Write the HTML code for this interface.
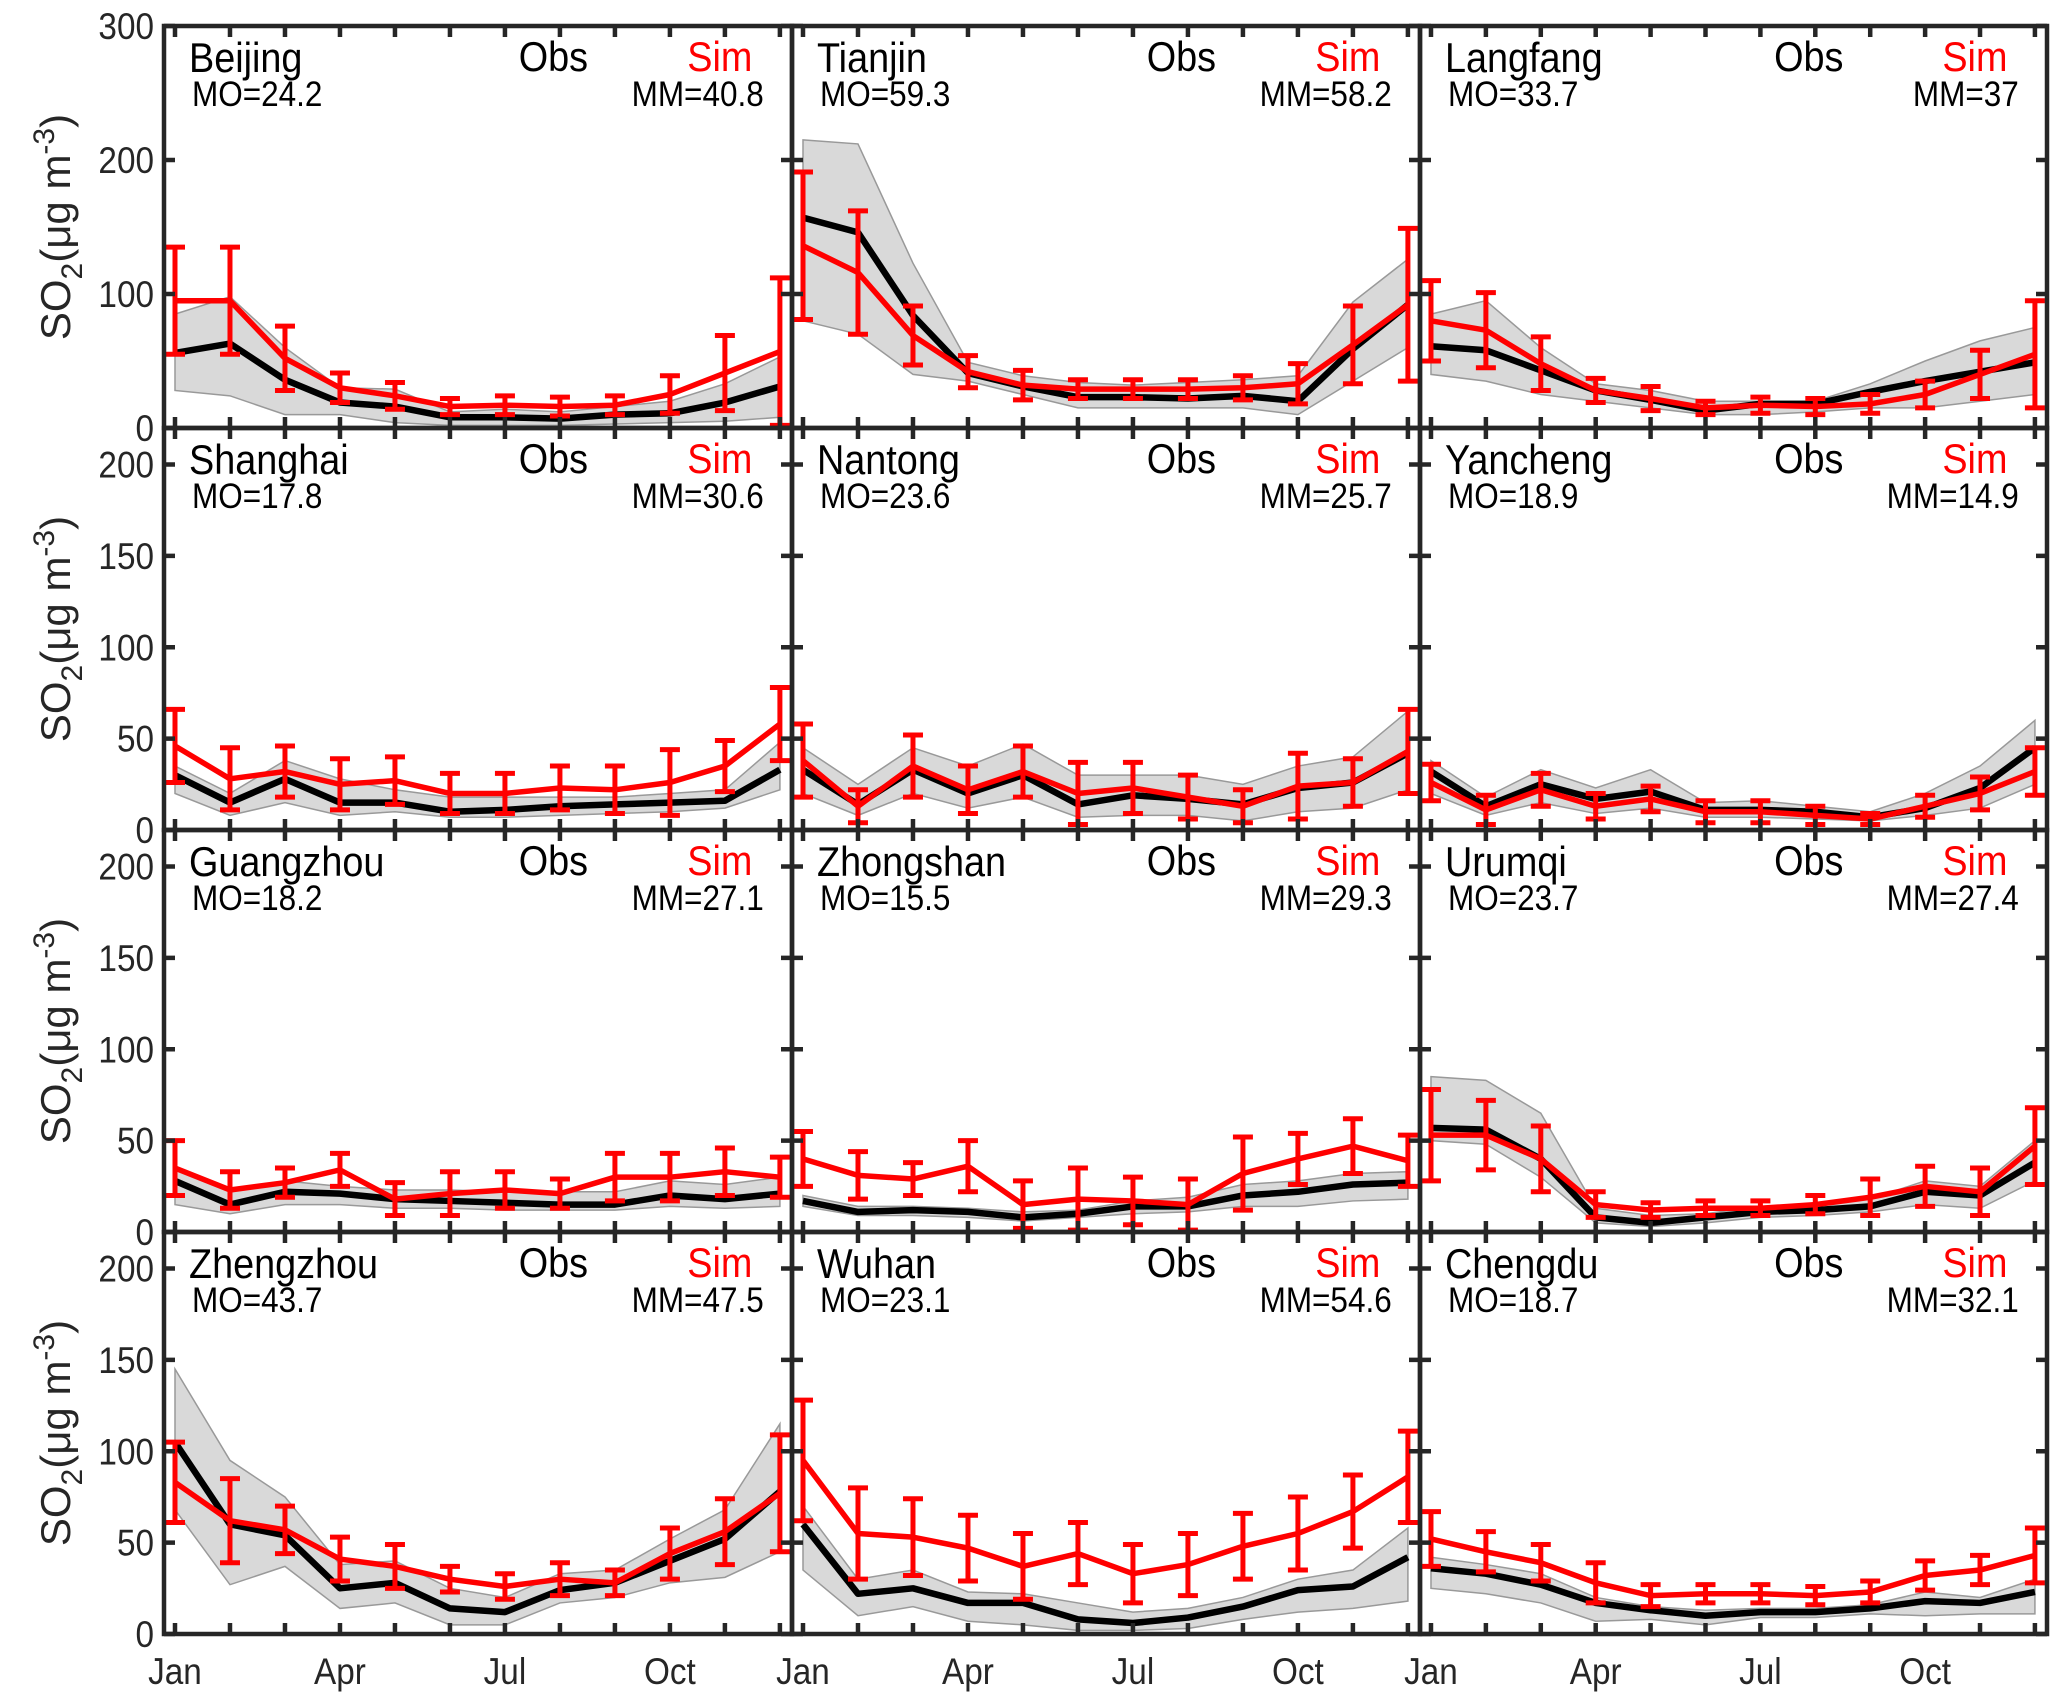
<!DOCTYPE html>
<html><head><meta charset="utf-8"><style>
html,body{margin:0;padding:0;background:#fff;}
svg{display:block;font-family:"Liberation Sans",sans-serif;}
</style></head><body>
<svg id="chart" width="2067" height="1706" viewBox="0 0 2067 1706" xmlns="http://www.w3.org/2000/svg"></svg>
<script>
const cities=["Beijing","Tianjin","Langfang","Shanghai","Nantong","Yancheng","Guangzhou","Zhongshan","Urumqi","Zhengzhou","Wuhan","Chengdu"];
const moVals=["24.2","59.3","33.7","17.8","23.6","18.9","18.2","15.5","23.7","43.7","23.1","18.7"];
const mmVals=["40.8","58.2","37","30.6","25.7","14.9","27.1","29.3","27.4","47.5","54.6","32.1"];
const monthLabels=["Jan","Apr","Jul","Oct"];
const monthTickIdx=[1,4,7,10];
const obs=[
[56,63,36,19,16,8,8,7,10,11,19,31],
[157,146,84,41,31,23,23,22,24,20,59,92],
[61,58,43,28,21,13,18,18,27,35,42,49],
[30,15,28,15,15,10,11,13,14,15,16,33],
[33,14,33,20,30,14,19,17,14,23,26,42],
[32,13,25,17,21,11,11,10,7,12,23,45],
[28,15,22,21,18,17,16,15,15,20,18,21],
[17,11,12,11,8,10,14,14,20,22,26,27],
[57,56,40,8,5,8,11,12,14,22,20,38],
[105,60,54,25,28,14,12,24,28,40,52,78],
[60,22,25,17,17,8,6,9,15,24,26,42],
[36,33,27,17,13,10,12,12,14,18,17,23]];
const obsHi=[
[85,98,60,30,29,12,14,12,16,20,33,53],
[215,212,123,49,39,34,32,34,36,39,94,126],
[85,95,60,33,28,20,20,20,33,50,65,75],
[35,20,38,28,22,18,18,18,18,20,22,48],
[45,25,45,35,47,30,30,30,25,35,40,65],
[38,18,33,23,33,15,16,13,10,20,35,60],
[35,22,28,25,23,23,22,22,22,28,26,30],
[20,14,14,13,11,12,17,19,26,28,32,33],
[85,83,65,13,9,10,14,15,18,28,25,50],
[145,95,75,38,40,25,20,33,35,52,68,115],
[70,30,35,23,22,17,12,14,20,30,35,58],
[42,38,33,20,15,13,14,14,16,23,20,30]];
const obsLo=[
[28,24,10,10,4,2,2,2,3,4,5,8],
[80,70,40,35,25,15,15,15,15,10,35,60],
[40,35,25,20,15,10,10,12,15,15,20,25],
[20,8,15,8,10,7,7,8,9,10,12,22],
[20,8,20,12,18,7,8,8,5,10,12,22],
[20,8,15,9,12,7,7,6,5,8,12,25],
[15,10,15,15,13,13,12,12,12,14,13,14],
[14,9,9,8,6,8,10,11,14,14,17,18],
[50,48,30,5,3,5,8,9,11,15,13,28],
[68,27,37,14,17,5,5,17,20,28,31,45],
[35,10,15,7,5,2,2,3,8,12,14,18],
[25,22,17,7,8,5,9,9,11,10,11,11]];
const sim=[
[95,95,52,30,24,16,17,16,17,25,41,57],
[136,116,69,42,32,29,29,29,30,33,62,92],
[80,73,48,28,22,15,17,16,18,25,40,55],
[46,28,32,25,27,20,20,23,22,26,35,58],
[38,13,35,22,32,20,23,18,13,24,26,43],
[26,11,22,13,17,10,10,8,6,13,20,32],
[35,23,27,34,18,21,23,21,30,30,33,30],
[40,31,29,36,15,18,17,15,32,40,47,39],
[53,53,40,15,12,13,13,15,19,25,22,47],
[83,62,57,41,37,30,26,30,28,44,56,77],
[95,55,53,47,37,44,33,38,48,55,67,86],
[52,45,39,28,21,22,22,21,23,32,35,43]];
const simErr=[
[40,40,24,11,10,6,7,7,7,14,28,55],
[55,46,22,12,11,7,7,7,9,15,29,57],
[30,28,20,9,9,5,6,6,7,10,18,40],
[20,17,14,14,13,11,11,12,13,18,14,20],
[20,9,17,13,14,17,14,12,9,18,13,23],
[10,8,9,7,7,6,6,5,3,6,9,13],
[15,10,8,9,9,12,10,8,13,13,13,11],
[15,13,9,14,13,17,13,14,20,14,15,14],
[25,19,18,7,4,4,4,5,10,11,13,21],
[22,23,13,12,12,7,7,9,7,14,18,32],
[33,25,21,18,18,17,16,17,18,20,20,25],
[15,11,10,11,6,5,5,5,6,8,8,15]];
const yTicksTop=[0,100,200,300];
const yTicksRest=[0,50,100,150,200];

const NS="http://www.w3.org/2000/svg";
const svg=document.getElementById('chart');
function mk(tag,attrs,parent){const e=document.createElementNS(NS,tag);for(const k in attrs)e.setAttribute(k,attrs[k]);(parent||svg).appendChild(e);return e;}
const colX=[164,792,1420,2047];
const rowY=[26,428,830,1232,1634];
const SX=0.9;
for(let p=0;p<12;p++){
  const r=Math.floor(p/3),c=p%3;
  const L=colX[c],R=colX[c+1],T=rowY[r],B=rowY[r+1];
  const ymax=r===0?300:220;
  const ticks=r===0?yTicksTop:yTicksRest;
  const xs=m=>L+(m-0.8)/(12.22-0.8)*(R-L);
  const ys=v=>B-v/ymax*(B-T);
  const g=mk('g',{});
  
  
  let d='';
  for(let i=0;i<12;i++)d+=(i?'L':'M')+xs(i+1)+','+ys(obsHi[p][i]);
  for(let i=11;i>=0;i--)d+='L'+xs(i+1)+','+ys(obsLo[p][i]);
  const band=mk('path',{d:d+'Z',fill:'#d9d9d9',stroke:'#999','stroke-width':1.5},g);
  
  
  const ob=mk('polyline',{points:obs[p].map((v,i)=>xs(i+1)+','+ys(v)).join(' '),fill:'none',stroke:'#000','stroke-width':6.5,'stroke-linejoin':'round'},g);
  
  
  for(let i=0;i<12;i++){
    const x=xs(i+1),y1=ys(sim[p][i]+simErr[p][i]),y2=ys(Math.max(sim[p][i]-simErr[p][i],0));
    const eb=mk('path',{d:`M${x},${y1}V${y2}M${x-10},${y1}H${x+10}M${x-10},${y2}H${x+10}`,stroke:'#f00','stroke-width':5,fill:'none'},g);
    
    
  }
  const sl=mk('polyline',{points:sim[p].map((v,i)=>xs(i+1)+','+ys(v)).join(' '),fill:'none',stroke:'#f00','stroke-width':5.5,'stroke-linejoin':'round'},g);
  
  
  let td='';
  for(let i=1;i<=12;i++){const x=xs(i);td+=`M${x},${B}V${B-11}M${x},${T}V${T+11}`;}
  ticks.forEach(v=>{const y=ys(v);td+=`M${L},${y}H${L+11}M${R},${y}H${R-11}`;});
  const tk=mk('path',{d:td,stroke:'#262626','stroke-width':4.5},g);
  
  
  const fr=mk('rect',{x:L,y:T,width:R-L,height:B-T,fill:'none',stroke:'#262626','stroke-width':4.5},g);
  
  
  const txt=(s,x,y,size,color,anchor,name)=>{const t=mk('text',{x:x/SX,y:y,'font-size':size,fill:color,'text-anchor':anchor,transform:`scale(${SX},1)`},g);t.textContent=s;return t;};
  const W=R-L;
  txt(cities[p],L+25,T+46,42,'#000','start','city-title');
  txt('MO='+moVals[p],L+28,T+80,35,'#000','start','mean-obs-label');
  txt('Obs',L+W*0.62,T+45,42,'#000','middle','obs-legend');
  txt('Sim',L+W*0.885,T+45,42,'#f00','middle','sim-legend');
  txt('MM='+mmVals[p],L+W*0.955,T+80,35,'#000','end','mean-model-label');
  if(c===0){
    ticks.forEach(v=>{const t=mk('text',{x:(L-10)/SX,y:ys(v)+13,'font-size':37,fill:'#262626','text-anchor':'end',transform:`scale(${SX},1)`},g);t.textContent=v;});
    const yl=mk('text',{x:0,y:0,'font-size':42,fill:'#262626','text-anchor':'middle',transform:`translate(70,${(T+B)/2}) rotate(-90)`},g);
    
    
    yl.innerHTML='SO<tspan font-size="30" dy="12">2</tspan><tspan dy="-12">(μg m</tspan><tspan font-size="30" dy="-16">-3</tspan><tspan dy="16">)</tspan>';
  }
  if(r===3){
    monthTickIdx.forEach((m,k)=>{const t=mk('text',{x:xs(m)/SX,y:B+50,'font-size':37,fill:'#262626','text-anchor':'middle',transform:`scale(${SX},1)`},g);t.textContent=monthLabels[k];});
  }
}
</script>
</body></html>
